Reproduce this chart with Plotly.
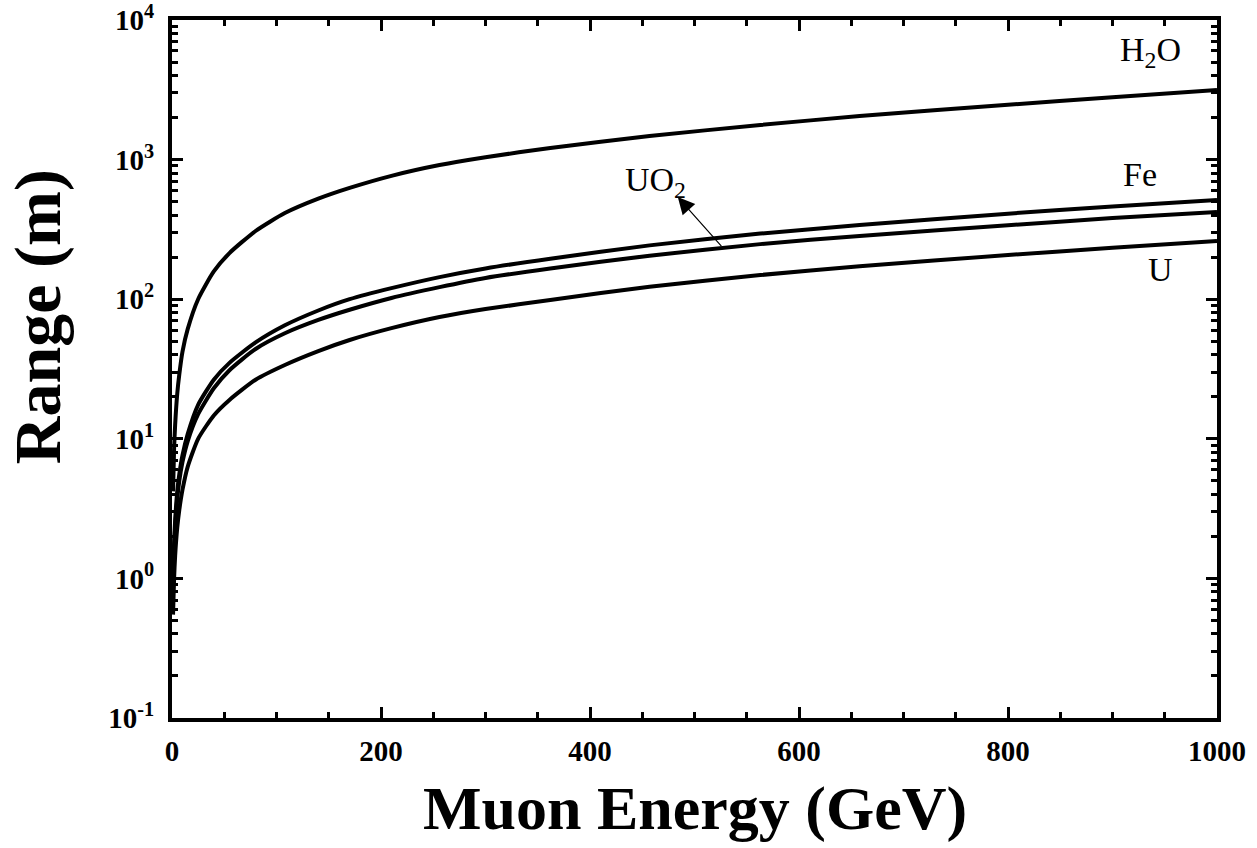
import plotly.graph_objects as go

# Muon energy (GeV)
energy = [1, 2, 3, 5, 7, 10, 15, 25, 40, 55, 80, 108, 140, 170, 210, 256, 300,
          362, 457, 563, 658, 800, 900, 1000]

# Range (m) for each material
range_h2o = [4.2, 8.5, 12.6, 21, 29, 42, 61, 100, 158, 214, 308, 414, 525, 627, 765,
             914, 1040, 1211, 1476, 1770, 2050, 2470, 2800, 3155]
range_fe = [1.0, 1.8, 2.6, 4.2, 5.6, 7.6, 10.8, 17.5, 26.5, 35, 49, 65, 83, 100, 120,
            144, 166, 195, 243, 295, 340, 410, 462, 514]
range_uo2 = [0.85, 1.6, 2.3, 3.7, 5.0, 6.8, 9.6, 15, 23, 31, 44, 57, 71, 84, 102,
             122, 142, 166, 205, 248, 284, 339, 381, 422]
range_u = [0.55, 1.0, 1.45, 2.3, 3.1, 4.3, 6.3, 10, 14.7, 19, 26.5, 33.8, 42.5, 51, 62,
           74.5, 85, 98.6, 123, 149, 172, 207, 234, 261]

series = [("H2O", range_h2o), ("Fe", range_fe), ("UO2", range_uo2), ("U", range_u)]

y_tickvals = [0.1, 1, 10, 100, 1000, 10000]
y_ticktext = ["10<sup>-1</sup>", "10<sup>0</sup>", "10<sup>1</sup>", "10<sup>2</sup>",
              "10<sup>3</sup>", "10<sup>4</sup>"]
y_minor = [m * 10 ** e for e in range(-1, 4) for m in range(2, 10)]

x_tickvals = [0, 200, 400, 600, 800, 1000]

FONT = "Liberation Serif, Times New Roman, serif"

fig = go.Figure()
for name, vals in series:
    fig.add_trace(go.Scatter(x=energy, y=vals, mode="lines", name=name,
                             line=dict(color="black", width=4, shape="spline",
                                       smoothing=0.6),
                             showlegend=False))

# labels
labels = [
    ("H<sub>2</sub>O", 936, 3.77),
    ("Fe", 926, 2.89),
    ("U", 946, 2.21),
    ("UO<sub>2</sub>", 463, 2.84),
]
for txt, lx, ly in labels:
    fig.add_annotation(x=lx, y=ly, text=txt, showarrow=False,
                       font=dict(family=FONT, size=34, color="black"))

# arrow pointing to UO2 curve
fig.add_annotation(x=484, y=2.732, ax=527, ay=2.37, axref="x", ayref="y",
                   xref="x", yref="y", text="", showarrow=True,
                   arrowhead=2, arrowsize=2.8, arrowwidth=1.2, arrowcolor="black")

# axis titles
fig.add_annotation(xref="paper", yref="paper", x=0.5, y=-0.129, xanchor="center",
                   yanchor="middle", text="Muon Energy (GeV)", showarrow=False,
                   font=dict(family=FONT, size=62, color="black", weight="bold"))
fig.add_annotation(xref="paper", yref="paper", x=-0.128, y=0.5745, xanchor="center",
                   yanchor="middle", text="Range (m)", showarrow=False, textangle=-90,
                   font=dict(family=FONT, size=66, color="black", weight="bold"))

fig.update_xaxes(range=[0, 1000], tickvals=x_tickvals, ticks="inside", ticklen=11,
                 tickwidth=3, tickcolor="black", showline=True, linewidth=4,
                 linecolor="black", mirror="allticks", showgrid=False, zeroline=False,
                 minor=dict(ticks="inside", ticklen=6, tickwidth=3, tickcolor="black",
                            dtick=50, showgrid=False),
                 tickfont=dict(family=FONT, size=29, color="black", weight="bold"),
                 ticklabelstandoff=4, automargin=False, ticklabeloverflow="allow")

fig.update_yaxes(type="log", range=[-1, 4], tickvals=y_tickvals, ticktext=y_ticktext,
                 ticks="inside", ticklen=11, tickwidth=3, tickcolor="black",
                 showline=True, linewidth=4, linecolor="black", mirror="allticks",
                 showgrid=False, zeroline=False,
                 minor=dict(ticks="inside", ticklen=6, tickwidth=3, tickcolor="black",
                            tickvals=y_minor, showgrid=False),
                 tickfont=dict(family=FONT, size=29, color="black", weight="bold"),
                 ticklabelstandoff=8, automargin=False, ticklabeloverflow="allow")

fig.update_layout(width=1257, height=848, plot_bgcolor="white", paper_bgcolor="white",
                  margin=dict(l=172, r=40, t=20, b=130))

fig.write_html("out.html", config={"displayModeBar": False},
               post_script="document.body.style.margin='0';"
                           "document.body.style.overflow='hidden';")
